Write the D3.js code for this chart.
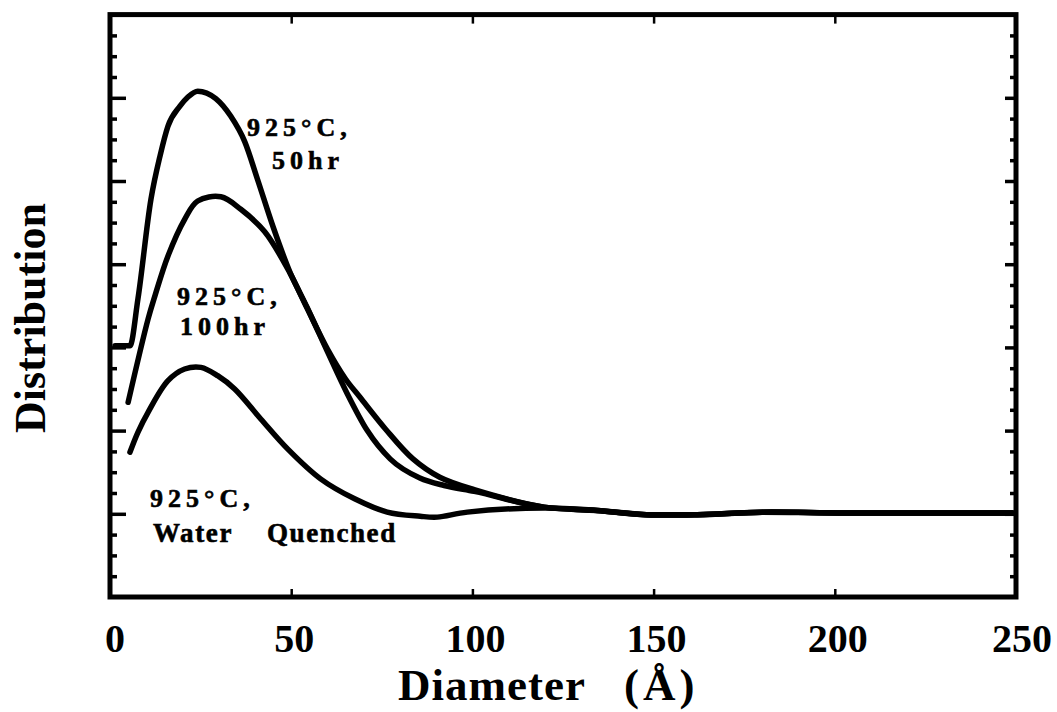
<!DOCTYPE html>
<html>
<head>
<meta charset="utf-8">
<script src="https://cdn.jsdelivr.net/npm/d3@7"></script>
<style>
  html, body { margin: 0; padding: 0; background: #fff; }
  svg { display: block; }
  text { font-family: "Liberation Serif", "DejaVu Serif", serif; font-weight: bold; fill: #000; }
</style>
</head>
<body>
<svg id="chart" width="1057" height="712"></svg>
<script>
// ---- data ----
const xTicks = [0, 50, 100, 150, 200, 250];
const xTickLabels = ["0", "50", "100", "150", "200", "250"];
const yMajorTicks = [1, 2, 3, 4, 5, 6];

const d50 = [1.4, 5.5, 7.7, 11.3, 13.8, 16.0, 19.3, 21.5, 24.2, 29.2, 33.3, 37.2, 40.7, 45.0, 49.7, 54.4, 60.0, 65.4, 71.0, 77.3, 85.5, 92.2, 100.5, 119.8, 134.4, 148, 162, 180, 203, 249];
const v50 = [3.02, 3.02, 3.58, 4.78, 5.30, 5.66, 5.90, 6.01, 6.08, 5.99, 5.78, 5.47, 5.02, 4.45, 3.90, 3.48, 2.95, 2.45, 2.00, 1.66, 1.43, 1.34, 1.27, 1.08, 1.04, 0.99, 0.99, 1.02, 1.01, 1.01];

const d100 = [5.0, 10.5, 12.4, 16.0, 20.6, 24.2, 30.6, 36.1, 42.7, 49.7, 54.4, 60.0, 65.0, 69.0, 76.0, 83.6, 91.0, 100.5, 119.8, 134.4, 148, 162, 180, 203, 249];
const v100 = [2.34, 3.34, 3.62, 4.10, 4.54, 4.76, 4.81, 4.66, 4.39, 3.89, 3.47, 2.98, 2.62, 2.40, 2.02, 1.66, 1.44, 1.29, 1.08, 1.04, 0.99, 0.99, 1.02, 1.01, 1.01];

const dWQ = [5.5, 7.7, 10.5, 16.0, 20.6, 25.1, 29.7, 34.4, 41.6, 49.0, 58.1, 67.5, 76.5, 85.6, 90.3, 98.6, 119.8, 134.4, 148, 162, 180, 203, 249];
const vWQ = [1.74, 1.98, 2.22, 2.60, 2.74, 2.76, 2.66, 2.50, 2.14, 1.78, 1.42, 1.18, 1.02, 0.97, 0.96, 1.02, 1.07, 1.04, 0.99, 0.99, 1.02, 1.01, 1.01];

const seriesNames = ["925°C, 50hr", "925°C, 100hr", "925°C, Water Quenched"];

// ---- layout ----
const svg = d3.select("#chart");
const x = d3.scaleLinear().domain([0, 250]).range([110, 1016]);
const y = d3.scaleLinear().domain([0, 7]).range([597, 14.6]);

const series = [
  { name: seriesNames[0], pts: d3.zip(d50, v50), curve: d3.curveMonotoneX },
  { name: seriesNames[1], pts: d3.zip(d100, v100), curve: d3.curveCatmullRom.alpha(0.5) },
  { name: seriesNames[2], pts: d3.zip(dWQ, vWQ), curve: d3.curveCatmullRom.alpha(0.5) }
];

const lineFor = c => d3.line()
  .x(d => x(d[0]))
  .y(d => y(d[1]))
  .curve(c);

// curves
svg.append("g").selectAll("path")
  .data(series)
  .join("path")
  .attr("d", d => lineFor(d.curve)(d.pts))
  .attr("fill", "none")
  .attr("stroke", "#000")
  .attr("stroke-width", 5.5)
  .attr("stroke-linejoin", "round")
  .attr("stroke-linecap", "round");

// frame
const [x0, x1] = x.range();
const [yb, yt] = y.range();
svg.append("rect")
  .attr("x", x0).attr("y", yt)
  .attr("width", x1 - x0).attr("height", yb - yt)
  .attr("fill", "none").attr("stroke", "#000").attr("stroke-width", 5);

// y ticks (inward) via axes
const yMinor = d3.range(0.25, 7, 0.25).filter(v => Math.abs(v - Math.round(v)) > 1e-6);
function yAxisGroup(axisFn, tx, ticks, len) {
  const g = svg.append("g").attr("transform", `translate(${tx},0)`)
    .call(axisFn(y).tickValues(ticks).tickSize(len).tickFormat(""));
  g.select(".domain").remove();
  g.selectAll(".tick line").attr("stroke", "#000").attr("stroke-width", 3.5);
}
yAxisGroup(d3.axisLeft, x0, yMajorTicks, -16);
yAxisGroup(d3.axisLeft, x0, yMinor, -7);
yAxisGroup(d3.axisRight, x1, yMajorTicks, -11);
yAxisGroup(d3.axisRight, x1, yMinor, -6);

// x ticks (inward small marks)
const innerX = xTicks.slice(1, -1);
let gb = svg.append("g").attr("transform", `translate(0,${yb})`)
  .call(d3.axisBottom(x).tickValues(innerX).tickSize(-8).tickFormat(""));
gb.select(".domain").remove();
gb.selectAll(".tick line").attr("stroke", "#000").attr("stroke-width", 2.5);
let gt = svg.append("g").attr("transform", `translate(0,${yt})`)
  .call(d3.axisTop(x).tickValues(innerX).tickSize(-9).tickFormat(""));
gt.select(".domain").remove();
gt.selectAll(".tick line").attr("stroke", "#000").attr("stroke-width", 2.5);

// x tick labels
svg.append("g").selectAll("text")
  .data(xTicks)
  .join("text")
  .attr("x", (d, i) => x(d) + (i === 0 ? 5 : (i === xTicks.length - 1 ? 6 : 3)))
  .attr("y", 652)
  .attr("text-anchor", "middle")
  .attr("font-size", 40)
  .text((d, i) => xTickLabels[i]);

// axis titles
const xt = svg.append("text")
  .attr("x", 398).attr("y", 700)
  .attr("font-size", 45)
  .attr("letter-spacing", 1);
xt.append("tspan").text("Diameter");
xt.append("tspan").attr("x", 624).attr("letter-spacing", 4).text("(Å)");

svg.append("text")
  .attr("transform", "translate(45,318) rotate(-90)")
  .attr("text-anchor", "middle")
  .attr("font-size", 44)
  .text("Distribution");

// curve annotations
function label(lines) {
  const t = svg.append("text").attr("font-size", 26).attr("letter-spacing", 5)
    .attr("stroke", "#000").attr("stroke-width", 0.6);
  lines.forEach(l => t.append("tspan").attr("x", l.x).attr("y", l.y).text(l.s));
}
label([{ s: "925°C,", x: 247, y: 136 }, { s: "50hr", x: 272, y: 169 }]);
label([{ s: "925°C,", x: 177, y: 305 }, { s: "100hr", x: 180, y: 335 }]);
label([{ s: "925°C,", x: 150, y: 507 }]);
const wq = svg.append("text").attr("font-size", 27).attr("letter-spacing", 1.6)
  .attr("stroke", "#000").attr("stroke-width", 0.6);
wq.append("tspan").attr("x", 153).attr("y", 542).text("Water");
wq.append("tspan").attr("x", 267).attr("y", 542).text("Quenched");
</script>
</body>
</html>
